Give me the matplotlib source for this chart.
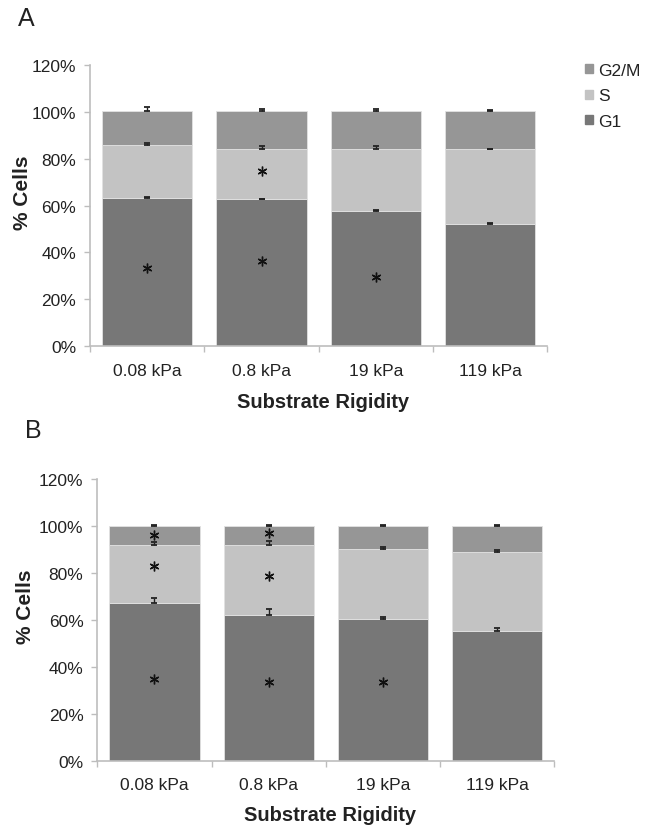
import numpy as np
import matplotlib
matplotlib.use('Agg')
import matplotlib.pyplot as plt
from matplotlib.patches import Patch
from matplotlib.ticker import FuncFormatter

plt.rcParams['font.family'] = ['Liberation Sans', 'DejaVu Sans']

# data (percent of cells)
categories = ['0.08 kPa', '0.8 kPa', '19 kPa', '119 kPa']
phases = ['G2/M', 'S', 'G1']

g1_a = [63.2, 62.7, 57.7, 52.0]
s_a = [22.8, 21.3, 26.3, 32.0]
g2m_a = [14.5, 16.5, 16.5, 16.5]
g1_err_a = [0.3, 0.3, 0.6, 0.6]
s_err_a = [0.8, 1.6, 1.6, 0.2]
g2m_err_a = [1.5, 1.0, 1.0, 0.2]
star_x_a = [0, 1, 1, 2]
star_y_a = [33.3, 74.9, 36.2, 29.4]

g1_b = [67.4, 62.3, 60.3, 55.3]
s_b = [24.7, 29.8, 30.0, 33.6]
g2m_b = [7.9, 7.9, 9.7, 11.1]
g1_err_b = [2.0, 2.3, 0.8, 1.4]
s_err_b = [1.0, 1.4, 0.7, 0.9]
g2m_err_b = [0.6, 0.3, 0.6, 0.6]
star_x_b = [0, 0, 0, 1, 1, 1, 2]
star_y_b = [96.3, 83.0, 34.9, 96.9, 78.6, 33.4, 33.4]

col_g1 = '#777777'
col_s = '#c3c3c3'
col_g2m = '#969696'
axis_col = '#bdbdbd'
text_col = '#222222'


def panel(ax, g1, s, g2m, e1, es, eg, sx, sy, ylab_x, xlab_y):
    x = np.arange(len(categories))
    g1 = np.array(g1)
    s = np.array(s)
    g2m = np.array(g2m)
    w = 0.79
    ax.bar(x, g1, w, color=col_g1, edgecolor='#e2e2e2', linewidth=0.6, zorder=2)
    ax.bar(x, s, w, bottom=g1, color=col_s, edgecolor='#e2e2e2', linewidth=0.6, zorder=2)
    ax.bar(x, g2m, w, bottom=g1 + s, color=col_g2m, edgecolor='#e2e2e2', linewidth=0.6, zorder=2)
    for top, err in [(g1, e1), (g1 + s, es), (g1 + s + g2m, eg)]:
        ax.errorbar(x, top, yerr=[np.zeros(len(x)), err], fmt='none', ecolor='#222222',
                    elinewidth=1.0, capsize=2.5, capthick=1.3, zorder=3)
    ax.plot(sx, sy, linestyle='none', marker=(6, 2, 0), markersize=7, color='#111111',
            markeredgewidth=1.0, zorder=4)

    ax.set_xlim(-0.5, len(categories) - 0.5)
    ax.set_ylim(0, 120)
    ax.set_yticks(np.arange(0, 121, 20))
    ax.yaxis.set_major_formatter(FuncFormatter(lambda v, p: f'{v:.0f}%'))
    ax.set_xticks(x)
    ax.set_xticklabels(categories)
    ax.set_xticks(np.arange(-0.5, len(categories)), minor=True)
    ax.tick_params(axis='x', which='major', length=0, pad=12, labelsize=12.5, colors=text_col)
    ax.tick_params(axis='x', which='minor', length=4, color=axis_col, width=1)
    ax.tick_params(axis='y', length=4, color=axis_col, width=1, pad=6, labelsize=12.5,
                   labelcolor=text_col)
    for sp in ['top', 'right']:
        ax.spines[sp].set_visible(False)
    for sp in ['left', 'bottom']:
        ax.spines[sp].set_color(axis_col)
        ax.spines[sp].set_linewidth(1.2)
    ax.set_ylabel('% Cells', fontsize=15, fontweight='bold', color=text_col)
    ax.yaxis.set_label_coords(ylab_x, 0.55)
    ax.set_xlabel('Substrate Rigidity', fontsize=14.5, fontweight='bold', color=text_col)
    ax.xaxis.set_label_coords(0.51, xlab_y)
    ax.xaxis.label.set_va('center')
    ax.yaxis.label.set_va('center')


fig = plt.figure(figsize=(6.53, 8.28), dpi=100)
ax_a = fig.add_axes([0.138, 0.581, 0.700, 0.339])
ax_b = fig.add_axes([0.149, 0.080, 0.700, 0.340])

panel(ax_a, g1_a, s_a, g2m_a, g1_err_a, s_err_a, g2m_err_a, star_x_a, star_y_a, -0.147, -0.199)
panel(ax_b, g1_b, s_b, g2m_b, g1_err_b, s_err_b, g2m_err_b, star_x_b, star_y_b, -0.158, -0.191)

fig.text(18 / 653, 1 - 19 / 828, 'A', fontsize=18, va='center', ha='left', color=text_col)
fig.text(25 / 653, 1 - 431 / 828, 'B', fontsize=18, va='center', ha='left', color=text_col)

handles = [Patch(color=col_g2m), Patch(color=col_s), Patch(color=col_g1)]
fig.legend(handles, phases, loc='upper left', bbox_to_anchor=(585 / 653, 1 - 64 / 828),
           frameon=False, fontsize=12.5, handlelength=0.45, handleheight=0.45,
           handletextpad=0.3, labelspacing=0.6, borderpad=0, borderaxespad=0,
           labelcolor=text_col)

plt.savefig('out.png', dpi=100)
